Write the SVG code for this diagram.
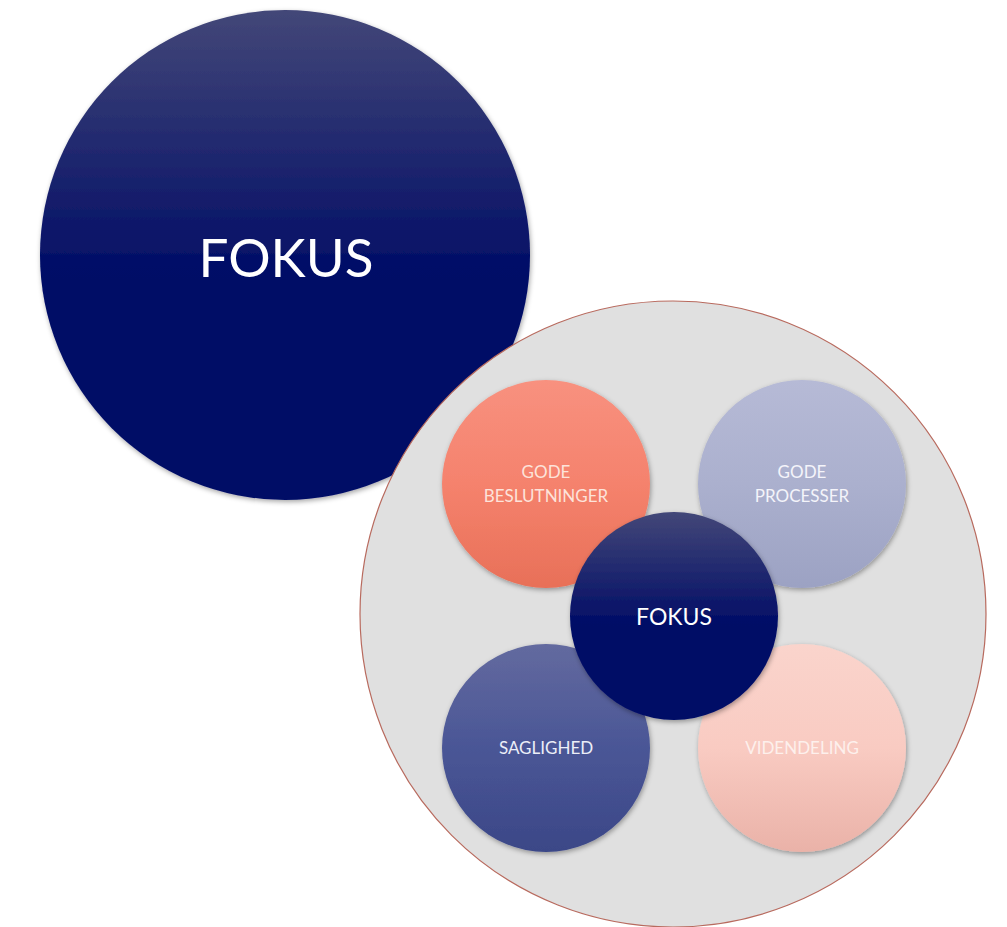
<svg xmlns="http://www.w3.org/2000/svg" width="1007" height="927" viewBox="0 0 1007 927">
<defs>
<linearGradient id="gNavy" x1="0" y1="0" x2="0" y2="1">
<stop offset="0" stop-color="#434778"/>
<stop offset="0.55" stop-color="#000c66"/>
<stop offset="1" stop-color="#000c66"/>
</linearGradient>
<linearGradient id="gRed" x1="0" y1="0" x2="0" y2="1">
<stop offset="0" stop-color="#f8917f"/>
<stop offset="0.5" stop-color="#f5826d"/>
<stop offset="1" stop-color="#e87058"/>
</linearGradient>
<linearGradient id="gLav" x1="0" y1="0" x2="0" y2="1">
<stop offset="0" stop-color="#b6bad6"/>
<stop offset="0.5" stop-color="#abb0ce"/>
<stop offset="1" stop-color="#9ca2c3"/>
</linearGradient>
<linearGradient id="gBlue" x1="0" y1="0" x2="0" y2="1">
<stop offset="0" stop-color="#636a9f"/>
<stop offset="0.5" stop-color="#4a5696"/>
<stop offset="1" stop-color="#3b4787"/>
</linearGradient>
<linearGradient id="gPink" x1="0" y1="0" x2="0" y2="1">
<stop offset="0" stop-color="#fad4cc"/>
<stop offset="0.5" stop-color="#f9cbc2"/>
<stop offset="1" stop-color="#eab2a8"/>
</linearGradient>
<filter id="sh" x="-20%" y="-20%" width="140%" height="140%">
<feDropShadow dx="1" dy="2" stdDeviation="2.5" flood-color="#000" flood-opacity="0.35"/>
</filter>
</defs>
<style>
.lbl{font-family:Lato,"Open Sans","Liberation Sans",sans-serif;text-anchor:middle;}
.big{font-size:53px;fill:#ffffff;}
.sm{font-size:17px;}
.mid{font-size:23px;fill:#ffffff;}
</style>
<rect width="1007" height="927" fill="#ffffff"/>
<g id="fokus-big">
<circle cx="285" cy="255" r="245" fill="url(#gNavy)" filter="url(#sh)"/>
<text class="lbl big" x="286" y="277">FOKUS</text>
</g>
<g id="container">
<circle cx="673" cy="614" r="313" fill="#e0e0e0" stroke="#b86a5e" stroke-width="1.2"/>
</g>
<g id="connectors"></g>
<g id="gode-beslutninger">
<circle cx="546" cy="484" r="104" fill="url(#gRed)" filter="url(#sh)"/>
<text class="lbl sm" x="546" y="478" fill="#fde3da">GODE</text>
<text class="lbl sm" x="546" y="502" fill="#fde3da">BESLUTNINGER</text>
</g>
<g id="gode-processer">
<circle cx="802" cy="484" r="104" fill="url(#gLav)" filter="url(#sh)"/>
<text class="lbl sm" x="802" y="478" fill="#f4f4fa">GODE</text>
<text class="lbl sm" x="802" y="502" fill="#f4f4fa">PROCESSER</text>
</g>
<g id="saglighed">
<circle cx="546" cy="748" r="104" fill="url(#gBlue)" filter="url(#sh)"/>
<text class="lbl sm" x="546" y="754" fill="#eceef8">SAGLIGHED</text>
</g>
<g id="videndeling">
<circle cx="802" cy="748" r="104" fill="url(#gPink)" filter="url(#sh)"/>
<text class="lbl sm" x="802" y="754" fill="#fdf0ec">VIDENDELING</text>
</g>
<g id="fokus-small">
<circle cx="674" cy="616" r="104" fill="url(#gNavy)" filter="url(#sh)"/>
<text class="lbl mid" x="674" y="625">FOKUS</text>
</g>
</svg>
